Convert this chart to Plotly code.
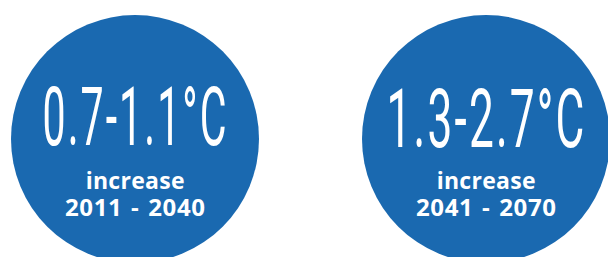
import plotly.graph_objects as go

low = [0.7, 1.3]
high = [1.1, 2.7]
period_start = [2011, 2041]
period_end = [2040, 2070]
sub_label = "increase"

W, H = 608, 257
BLUE = "#1A69B0"
centers_x = [135, 486]
big_y = [117, 119]
cy, r = 139, 124

fig = go.Figure()
fig.add_trace(go.Scatter(x=[0], y=[0], mode="markers", marker=dict(opacity=0),
                         hoverinfo="skip", showlegend=False))

for i in range(len(low)):
    cx = centers_x[i]
    fig.add_shape(type="circle", xref="x", yref="y", x0=cx - r, x1=cx + r, y0=cy - r, y1=cy + r,
                  fillcolor=BLUE, line=dict(width=0), layer="below")
    fig.add_annotation(x=cx, y=big_y[i], xref="x", yref="y", showarrow=False,
                       text=f"<span style='letter-spacing:2px'>{low[i]}-{high[i]}°C</span>",
                       font=dict(family="Roboto", size=40, color="white", weight=400))

for i in range(len(low)):
    cx = centers_x[i]
    fig.add_annotation(x=cx, y=193, xref="x", yref="y", showarrow=False,
                       text=(f"<span style='font-size:23px;letter-spacing:0.3px'><b>{sub_label}</b></span><br>"
                             f"<span style='font-size:24px;letter-spacing:0.6px;word-spacing:2px'>"
                             f"<b>{period_start[i]} - {period_end[i]}</b></span>"),
                       font=dict(family="Open Sans", size=21, color="white"))

fig.update_layout(width=W, height=H, margin=dict(l=0, r=0, t=0, b=0),
                  paper_bgcolor="white", plot_bgcolor="white",
                  xaxis=dict(range=[0, W], visible=False, fixedrange=True),
                  yaxis=dict(range=[H, 0], visible=False, fixedrange=True),
                  showlegend=False)

post = """
document.body.style.margin = '0';
var gd = document.getElementById('{plot_id}');
var targets = {0: 186, 1: 200};
var SY = 2.04;
Object.keys(targets).forEach(function(k){
  var t = gd.querySelector('.annotation[data-index="' + k + '"] text.annotation-text');
  if (!t) return;
  var base = t.getAttribute('data-base-tf');
  if (base === null) { base = t.getAttribute('transform') || ''; t.setAttribute('data-base-tf', base); }
  t.setAttribute('transform', base);
  var b = t.getBBox();
  var sx = targets[k] / b.width;
  var cx = b.x + b.width / 2, cy = b.y + b.height / 2;
  t.setAttribute('transform', base + ' translate(' + cx + ',' + cy + ') scale(' + sx + ',' + SY + ') translate(' + (-cx) + ',' + (-cy) + ')');
});
"""
fig.write_html("out.html", post_script=post, config={"displayModeBar": False, "staticPlot": True})
